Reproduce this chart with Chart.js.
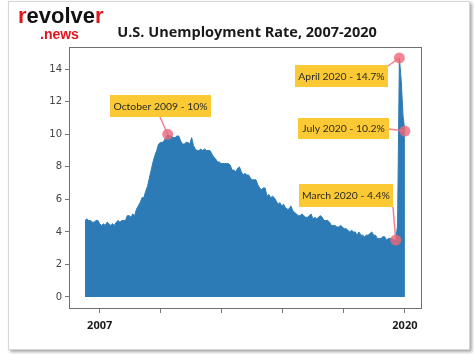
<!DOCTYPE html>
<html>
<head>
<meta charset="utf-8">
<script src="https://cdn.jsdelivr.net/npm/chart.js@4"></script>
<style>
    html, body { margin: 0; padding: 0; background: #fff; }
    #wrap { position: relative; width: 474px; height: 354px; overflow: hidden; }
    #card {
        position: absolute; left: 8px; top: 1px; width: 460px; height: 347px;
        border: 1px solid #d6d6d6; box-shadow: 2px 2px 3px rgba(0, 0, 0, 0.35); background: #fff;
    }
    #grafik { position: absolute; left: 0; top: 0; }
    #logo { position: absolute; left: 18px; top: 3px; font-family: "Liberation Sans", Arial, sans-serif; }
    #logo .r { color: #e3141b; }
    #logo .big { font-size: 22px; font-weight: bold; color: #111; line-height: 25px; }
    #logo .news { font-size: 14px; font-weight: bold; color: #e3141b; margin-left: 22px; line-height: 12px; }
    #baslik {
        position: absolute; left: 0; width: 494px; top: 22px; text-align: center;
        font-family: "Open Sans", sans-serif; font-weight: bold; font-size: 14.5px; color: #1a1a1a;
    }
</style>
</head>
<body>
<div id="wrap">
    <div id="card"></div>
    <canvas id="grafik" width="474" height="354"></canvas>
    <div id="logo">
        <div class="big"><span class="r">r</span>evolve<span class="r">r</span></div>
        <div class="news">.news</div>
    </div>
    <div id="baslik">U.S. Unemployment Rate, 2007-2020</div>
</div>
<script>
// Aylık işsizlik oranı (%), Ocak 2006 - Temmuz 2020
const startYear = 2006;
const rates = [
    4.7, 4.8, 4.7, 4.7, 4.6, 4.6, 4.7, 4.7, 4.5, 4.4, 4.5, 4.4,
    4.6, 4.5, 4.4, 4.5, 4.4, 4.6, 4.7, 4.6, 4.7, 4.7, 4.7, 5.0,
    5.0, 4.9, 5.1, 5.0, 5.4, 5.6, 5.8, 6.1, 6.1, 6.5, 6.8, 7.3,
    7.8, 8.3, 8.7, 9.0, 9.4, 9.5, 9.5, 9.6, 9.8, 10.0, 9.9, 9.9,
    9.8, 9.8, 9.9, 9.9, 9.6, 9.4, 9.4, 9.5, 9.5, 9.4, 9.8, 9.3,
    9.1, 9.0, 9.0, 9.1, 9.0, 9.1, 9.0, 9.0, 9.0, 8.8, 8.6, 8.5,
    8.3, 8.3, 8.2, 8.2, 8.2, 8.2, 8.2, 8.1, 7.8, 7.8, 7.7, 7.9,
    8.0, 7.7, 7.5, 7.6, 7.5, 7.5, 7.3, 7.2, 7.2, 7.2, 6.9, 6.7,
    6.6, 6.7, 6.7, 6.2, 6.3, 6.1, 6.2, 6.1, 5.9, 5.7, 5.8, 5.6,
    5.7, 5.5, 5.4, 5.4, 5.6, 5.3, 5.2, 5.1, 5.0, 5.0, 5.1, 5.0,
    4.9, 4.9, 5.0, 5.1, 4.8, 4.9, 4.8, 4.9, 5.0, 4.9, 4.7, 4.7,
    4.7, 4.6, 4.4, 4.4, 4.4, 4.3, 4.3, 4.4, 4.3, 4.2, 4.2, 4.1,
    4.0, 4.1, 4.0, 4.0, 3.8, 4.0, 3.8, 3.8, 3.7, 3.8, 3.8, 3.9,
    4.0, 3.8, 3.8, 3.6, 3.6, 3.6, 3.7, 3.7, 3.5, 3.6, 3.6, 3.6,
    3.5, 3.5, 4.4, 14.7, 13.3, 11.1, 10.2
];

// Y ekseni etiketleri ve alt eksendeki yıl etiketleri
const yTicks = [0, 2, 4, 6, 8, 10, 12, 14];
const xTickLabels = ["2007", "", "", "", "", "2020"];

// Not kutuları: metin ve işaretlenen ay (Ocak 2006'dan itibaren sıra)
const noteTexts = ["October 2009 - 10%", "April 2020 - 14.7%", "July 2020 - 10.2%", "March 2020 - 4.4%"];
const noteMonths = [45, 171, 174, 169];

const noteLayout = [
    { box: [110, 95, 101, 22], from: [160, 117] },
    { box: [295, 65, 93, 22], from: [388, 66] },
    { box: [298, 118, 91, 21], from: [389, 129] },
    { box: [299, 184, 94, 23], from: [393, 207] }
];

// Not kutularını ve bağlantı çizgilerini çiz
const notesPlugin = {
    id: "notes",
    afterDatasetsDraw(chart) {
        const { ctx, scales } = chart;
        ctx.save();
        noteTexts.forEach((text, i) => {
            const lay = noteLayout[i];
            const px = scales.x.getPixelForValue(noteMonths[i]);
            const py = scales.y.getPixelForValue(rates[noteMonths[i]]);
            const [bx, by, bw, bh] = lay.box;

            ctx.strokeStyle = "rgba(238, 110, 125, 0.85)";
            ctx.lineWidth = 1.5;
            ctx.beginPath();
            ctx.moveTo(lay.from[0], lay.from[1]);
            ctx.lineTo(px, py);
            ctx.stroke();

            ctx.fillStyle = "#fbc933";
            ctx.fillRect(bx, by, bw, bh);
            ctx.fillStyle = "#2a2a2a";
            ctx.font = "10.4px Lato, sans-serif";
            ctx.textAlign = "center";
            ctx.textBaseline = "middle";
            ctx.fillText(text, bx + bw / 2, by + bh / 2 + 0.5);
        });
        ctx.restore();
    }
};

// Grafik çerçevesi
const framePlugin = {
    id: "frame",
    afterDraw(chart) {
        const { ctx, chartArea } = chart;
        ctx.save();
        ctx.strokeStyle = "#6f6f6f";
        ctx.lineWidth = 1;
        ctx.strokeRect(Math.round(chartArea.left) + 0.5, Math.round(chartArea.top) + 0.5,
            Math.round(chartArea.width) - 1, Math.round(chartArea.height) - 1);
        ctx.restore();
    }
};

function createChart() {
    const ctx = document.getElementById("grafik").getContext("2d");
    const points = rates.map((v, i) => ({ x: i, y: v }));
    const marks = noteMonths.map((m) => ({ x: m, y: rates[m] }));

    const xFirst = 8, xLast = rates.length - 1;
    const xStep = (xLast - xFirst) / (xTickLabels.length - 1);

    new Chart(ctx, {
        type: "line",
        data: {
            datasets: [
                {
                    data: points,
                    borderColor: "#2c7bb6",
                    backgroundColor: "#2c7bb6",
                    borderWidth: 1,
                    pointRadius: 0,
                    fill: "origin",
                    tension: 0,
                    order: 2
                },
                {
                    type: "scatter",
                    data: marks,
                    pointRadius: 5.5,
                    pointBackgroundColor: "rgba(236, 104, 120, 0.8)",
                    pointBorderWidth: 0,
                    order: 1
                }
            ]
        },
        options: {
            responsive: false,
            animation: false,
            devicePixelRatio: 1,
            layout: { padding: { top: 47, right: 52, left: 0, bottom: 0 } },
            plugins: { legend: { display: false }, tooltip: { enabled: false } },
            scales: {
                x: {
                    type: "linear",
                    min: -8.7,
                    max: 183.3,
                    afterBuildTicks: (s) => {
                        s.ticks = xTickLabels.map((_, i) => ({ value: xFirst + i * xStep }));
                    },
                    afterFit: (s) => { s.height = 45; },
                    ticks: {
                        autoSkip: false,
                        maxRotation: 0,
                        padding: 6,
                        color: "#1a1a1a",
                        font: { family: "'Open Sans', sans-serif", size: 11, weight: "bold" },
                        callback: (v, i) => xTickLabels[i]
                    },
                    grid: { drawOnChartArea: false, tickLength: 4, color: "#777" },
                    border: { display: false }
                },
                y: {
                    min: -0.74,
                    max: 15.37,
                    afterBuildTicks: (s) => { s.ticks = yTicks.map((v) => ({ value: v })); },
                    afterFit: (s) => { s.width = 69; },
                    ticks: {
                        padding: 3,
                        color: "#444",
                        font: { family: "'DejaVu Sans', sans-serif", size: 10 }
                    },
                    grid: { drawOnChartArea: false, tickLength: 4, color: "#777" },
                    border: { display: false }
                }
            }
        },
        plugins: [notesPlugin, framePlugin]
    });
}

createChart();
</script>
</body>
</html>
